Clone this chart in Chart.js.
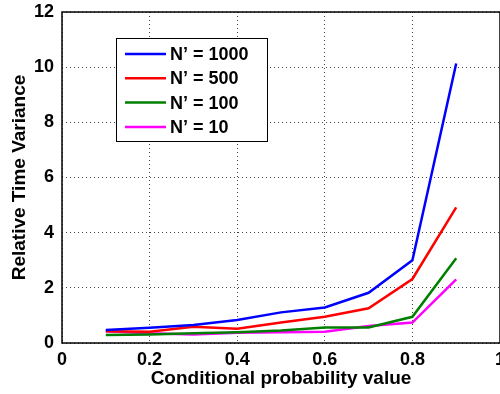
<!DOCTYPE html>
<html>
<head>
<meta charset="utf-8">
<script src="https://cdn.jsdelivr.net/npm/chart.js@4/dist/chart.umd.min.js"></script>
<style>
  html, body { margin: 0; padding: 0; background: #fff; }
</style>
</head>
<body>
<canvas id="chart" width="500" height="394"></canvas>
<script>
// x positions (conditional probability)
const probs = [0.1, 0.2, 0.3, 0.4, 0.5, 0.6, 0.7, 0.8, 0.9];

// relative time variance per N'
const n1000 = [0.47, 0.55, 0.65, 0.83, 1.11, 1.29, 1.82, 3.00, 10.13];
const n500 = [0.43, 0.41, 0.59, 0.52, 0.74, 0.95, 1.26, 2.32, 4.92];
const n100 = [0.29, 0.31, 0.35, 0.39, 0.45, 0.56, 0.56, 0.95, 3.07];
const n10 = [0.43, 0.35, 0.31, 0.37, 0.39, 0.41, 0.62, 0.74, 2.31];

const seriesNames = ["N\u2019 = 1000", "N\u2019 = 500", "N\u2019 = 100", "N\u2019 = 10"];
const seriesColors = ['#0000ff', '#ff0000', '#008000', '#ff00ff'];

const xTicks = [0, 0.2, 0.4, 0.6, 0.8, 1];
const yTicks = [0, 2, 4, 6, 8, 10, 12];

const FONT = 'Liberation Sans, Arial, Helvetica, sans-serif';

function toPoints(vals) {
  return vals.map((v, i) => ({ x: probs[i], y: v }));
}

const allSeries = [n1000, n500, n100, n10];

// box around the plot area and a MATLAB-style legend
const boxAndLegend = {
  id: 'boxAndLegend',
  afterDatasetsDraw(chart) {
    const ctx = chart.ctx;
    const a = chart.chartArea;
    ctx.save();
    ctx.strokeStyle = '#000';
    ctx.lineWidth = 1.5;
    ctx.strokeRect(a.left, a.top, a.right - a.left, a.bottom - a.top);

    // legend
    const lx = 116, ly = 38, lw = 151, lh = 103;
    ctx.fillStyle = '#fff';
    ctx.fillRect(lx, ly, lw, lh);
    ctx.lineWidth = 1;
    ctx.strokeRect(lx + 0.5, ly + 0.5, lw, lh);
    ctx.font = 'bold 18px ' + FONT;
    ctx.textBaseline = 'middle';
    chart.data.datasets.forEach((ds, i) => {
      const y = 54 + i * 24.3;
      ctx.strokeStyle = ds.borderColor;
      ctx.lineWidth = 2.5;
      ctx.beginPath();
      ctx.moveTo(125, y);
      ctx.lineTo(166, y);
      ctx.stroke();
      ctx.fillStyle = '#000';
      ctx.fillText(ds.label, 170, y + 1);
    });
    ctx.restore();
  }
};

new Chart(document.getElementById('chart').getContext('2d'), {
  type: 'line',
  data: {
    datasets: allSeries.map((vals, i) => ({
      label: seriesNames[i],
      data: toPoints(vals),
      borderColor: seriesColors[i],
      backgroundColor: seriesColors[i],
      borderWidth: 2.5,
      pointRadius: 0,
      tension: 0,
      fill: false
    }))
  },
  options: {
    responsive: false,
    animation: false,
    layout: { padding: { top: 12, right: 0, left: 0, bottom: 0 } },
    plugins: {
      legend: { display: false },
      tooltip: { enabled: false }
    },
    scales: {
      x: {
        type: 'linear',
        min: 0,
        max: 1,
        afterBuildTicks(scale) {
          scale.ticks = xTicks.map(v => ({ value: v }));
        },
        afterFit(scale) {
          scale.height = 51;
          scale.paddingLeft = 0;
          scale.paddingRight = 0;
        },
        border: { display: false, dash: [1, 3] },
        grid: {
          color: '#444',
          lineWidth: 1,
          drawTicks: false
        },
        ticks: {
          padding: 6,
          color: '#000',
          maxRotation: 0,
          font: { family: FONT, size: 18, weight: 'bold' },
          callback: v => String(v)
        },
        title: {
          display: true,
          text: 'Conditional probability value',
          color: '#000',
          padding: { top: 0, bottom: 4 },
          font: { family: FONT, size: 19, weight: 'bold' }
        }
      },
      y: {
        min: 0,
        max: 12,
        afterBuildTicks(scale) {
          scale.ticks = yTicks.map(v => ({ value: v }));
        },
        afterFit(scale) {
          scale.width = 62;
          scale.paddingTop = 0;
          scale.paddingBottom = 0;
        },
        border: { display: false, dash: [1, 3] },
        grid: {
          color: '#444',
          lineWidth: 1,
          drawTicks: false
        },
        ticks: {
          padding: 8,
          color: '#000',
          font: { family: FONT, size: 18, weight: 'bold' }
        },
        title: {
          display: true,
          text: 'Relative Time Variance',
          color: '#000',
          padding: { top: 8, bottom: 0 },
          font: { family: FONT, size: 19, weight: 'bold' }
        }
      }
    }
  },
  plugins: [boxAndLegend]
});
</script>
</body>
</html>
